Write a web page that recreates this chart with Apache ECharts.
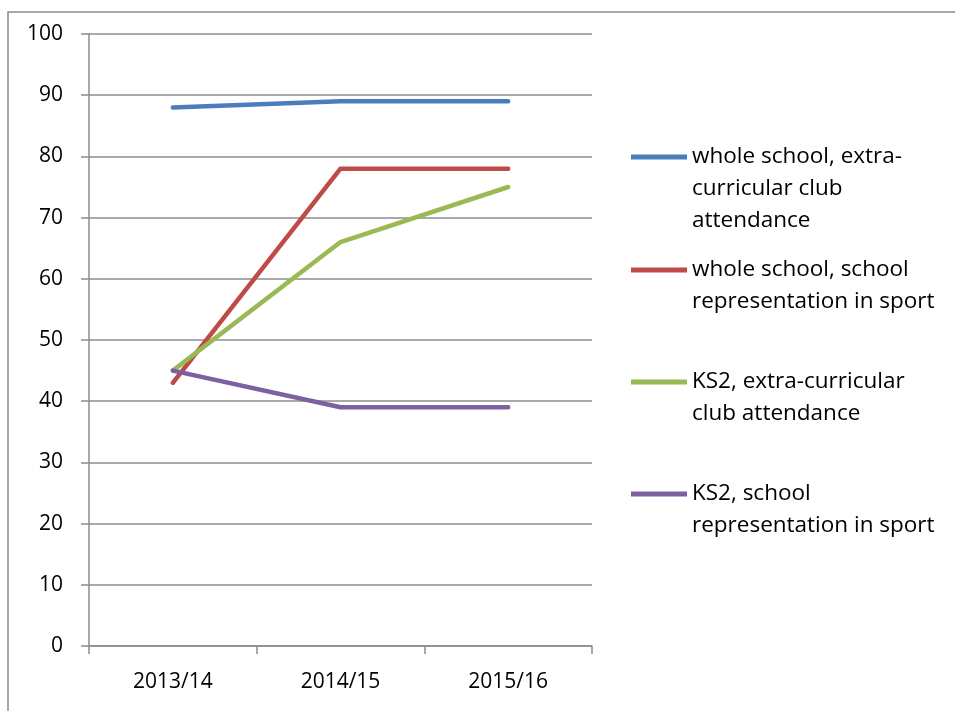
<!DOCTYPE html>
<html>
<head>
<meta charset="utf-8">
<script src="https://cdn.jsdelivr.net/npm/echarts@6/dist/echarts.min.js"></script>
<style>
html,body{margin:0;padding:0;background:#fff;}
#chart{width:955px;height:711px;}
</style>
</head>
<body>
<div id="chart"></div>
<script>
const categories = ['2013/14', '2014/15', '2015/16'];
const seriesNames = [
  'whole school, extra-curricular club attendance',
  'whole school, school representation in sport',
  'KS2, extra-curricular club attendance',
  'KS2, school representation in sport'
];
const legendLines = [
  ['whole school, extra-', 'curricular club', 'attendance'],
  ['whole school, school', 'representation in sport'],
  ['KS2, extra-curricular', 'club attendance'],
  ['KS2, school', 'representation in sport']
];
const wholeSchoolClub = [88, 89, 89];
const wholeSchoolRep = [43, 78, 78];
const ks2Club = [45, 66, 75];
const ks2Rep = [45, 39, 39];
const yTicks = [0, 10, 20, 30, 40, 50, 60, 70, 80, 90, 100];

const values = [wholeSchoolClub, wholeSchoolRep, ks2Club, ks2Rep];
const colors = ['#4A7EBB', '#BE4B48', '#98B954', '#7D60A0'];
const FONT = 'Open Sans';
const legendFirstLineY = [157, 270, 382, 494];
const LH = 32;

const chart = echarts.init(document.getElementById('chart'), null, {renderer: 'canvas'});

const legends = seriesNames.map((name, i) => {
  const n = legendLines[i].length;
  const text = '\n'.repeat(n - 1) + legendLines[i].join('\n');
  return {
    data: [{name: name, icon: 'rect'}],
    left: 631,
    top: legendFirstLineY[i] - (n - 0.5) * LH,
    padding: 0,
    itemWidth: 56,
    itemHeight: 5,
    selectedMode: false,
    formatter: () => text,
    textStyle: {fontFamily: FONT, fontSize: 22.5, color: '#000', lineHeight: LH}
  };
});

chart.setOption({
  animation: false,
  color: colors,
  graphic: [{
    type: 'rect',
    shape: {x: 8, y: 12, width: 1000, height: 800},
    style: {fill: 'none', stroke: '#8c8c8c', lineWidth: 1.5},
    silent: true
  }],
  legend: legends,
  grid: {left: 89, right: 363, top: 34, bottom: 65, containLabel: false},
  xAxis: {
    type: 'category',
    data: categories,
    boundaryGap: true,
    axisLine: {lineStyle: {color: '#8c8c8c', width: 1.5}},
    axisTick: {show: true, length: 8, lineStyle: {color: '#8c8c8c', width: 1.5}},
    axisLabel: {fontFamily: FONT, fontSize: 21, color: '#000', margin: 26},
    splitLine: {show: false}
  },
  yAxis: {
    type: 'value',
    min: 0, max: 100, interval: 10,
    axisLine: {show: true, lineStyle: {color: '#8c8c8c', width: 1.5}},
    axisTick: {show: true, length: 8, lineStyle: {color: '#8c8c8c', width: 1.5}},
    axisLabel: {fontFamily: FONT, fontSize: 21, color: '#000', margin: 26,
      formatter: v => yTicks.includes(v) ? String(v) : ''},
    splitLine: {show: true, lineStyle: {color: '#8c8c8c', width: 1.5}}
  },
  series: seriesNames.map((name, i) => ({
    name: name,
    type: 'line',
    data: values[i],
    symbol: 'none',
    lineStyle: {color: colors[i], width: 4.5, cap: 'round', join: 'round'},
    itemStyle: {color: colors[i]}
  }))
});
</script>
</body>
</html>
